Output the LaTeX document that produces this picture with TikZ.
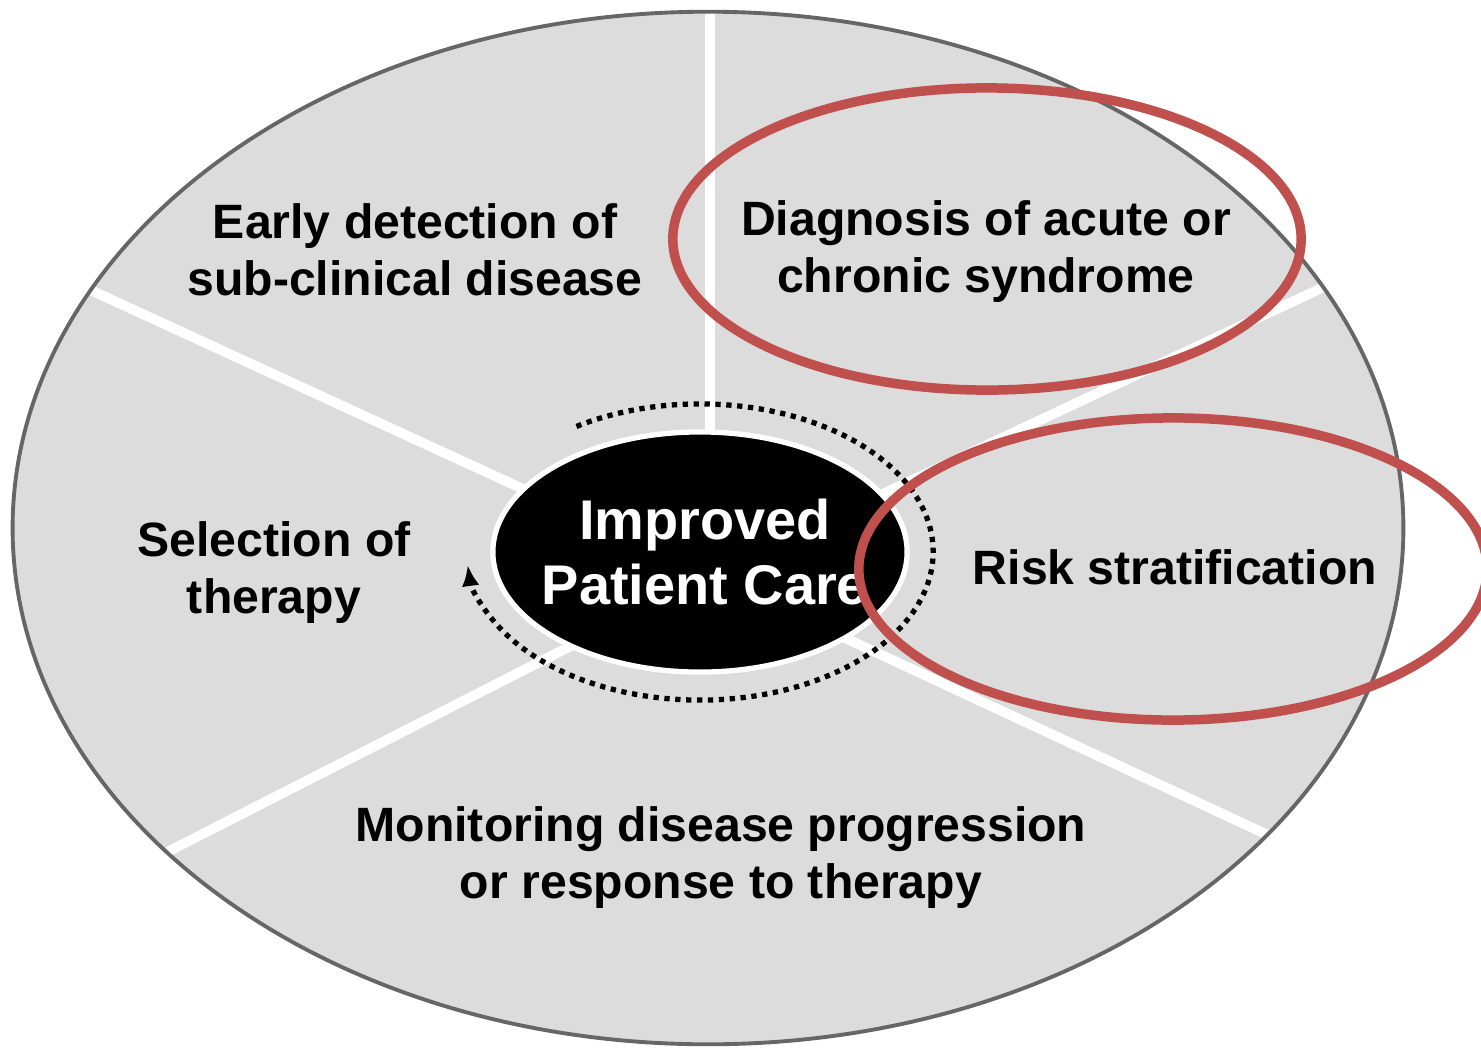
\documentclass[tikz,border=0pt]{standalone}
\usepackage{fontspec}
\setmainfont{Liberation Sans}
\usepackage{xcolor}
\usetikzlibrary{positioning,arrows.meta,shapes.geometric,calc}
\definecolor{ringred}{RGB}{192,80,77}
\definecolor{diskgray}{RGB}{220,220,220}

\begin{document}
\begin{tikzpicture}[x=0.01cm,y=0.01cm,
    lbl/.style={font=\bfseries\fontsize{13.7}{16.2}\selectfont,align=center,inner sep=0pt},
    divider/.style={white,line width=2.8pt},
    redring/.style={ellipse,draw=ringred,line width=2.7pt,minimum width=6.28cm,minimum height=3.02cm,inner sep=0pt}]
    \clip (0,0) rectangle (1481,-1048);
    \node[ellipse,fill=diskgray,minimum width=13.9cm,minimum height=10.32cm,inner sep=0pt] (disk) at (708,-528) {};
    \coordinate (hub) at (710,-575);
    \coordinate (e1) at (710,0);
    \coordinate (e2) at (60,-276);
    \coordinate (e3) at (1360,-270);
    \coordinate (e4) at (130,-871);
    \coordinate (e5) at (1300,-850);
    \begin{scope}
        \clip (disk.center) ellipse [x radius=6.95cm, y radius=5.16cm];
        \foreach \e in {e1,e2,e3,e4,e5}
            \draw[divider] (hub) -- (\e);
    \end{scope}
    \draw[black!60,line width=1.1pt] (disk.center) ellipse [x radius=6.95cm, y radius=5.16cm];
    % core and the loop round it
    \node[ellipse,fill=black,draw=white,line width=1.5pt,minimum width=4.14cm,minimum height=2.4cm,inner sep=0pt] (core) at (700,-552) {};
    \node[text=white,font=\bfseries\fontsize{15.9}{18.5}\selectfont,align=center,inner sep=0pt] (coretxt) at (705,-552) {Improved\\Patient Care};
    \draw[line width=1.5pt,dash pattern=on 1.5pt off 1.6pt,-{Latex[length=6pt,width=5pt]}]
        ($(core.center)+(122:2.33cm and 1.48cm)$) arc[start angle=122,end angle=-175,x radius=2.33cm,y radius=1.48cm];
    \node[lbl] (edt) at (415,-250) {Early detection of\\sub-clinical disease};
    \node[lbl] (dgn) at (986,-252) {Diagnosis of acute or\\chronic syndrome};
    \node[lbl] (sel) at (274,-573) {Selection of\\therapy};
    \node[lbl] (rsk) at (1175,-567) {Risk stratification};
    \node[lbl] (mon) at (721,-858) {Monitoring disease progression\\or response to therapy};
    \node[redring] (ring1) at (987,-239) {};
    \node[redring] (ring2) at (1173,-569) {};
\end{tikzpicture}
\end{document}
